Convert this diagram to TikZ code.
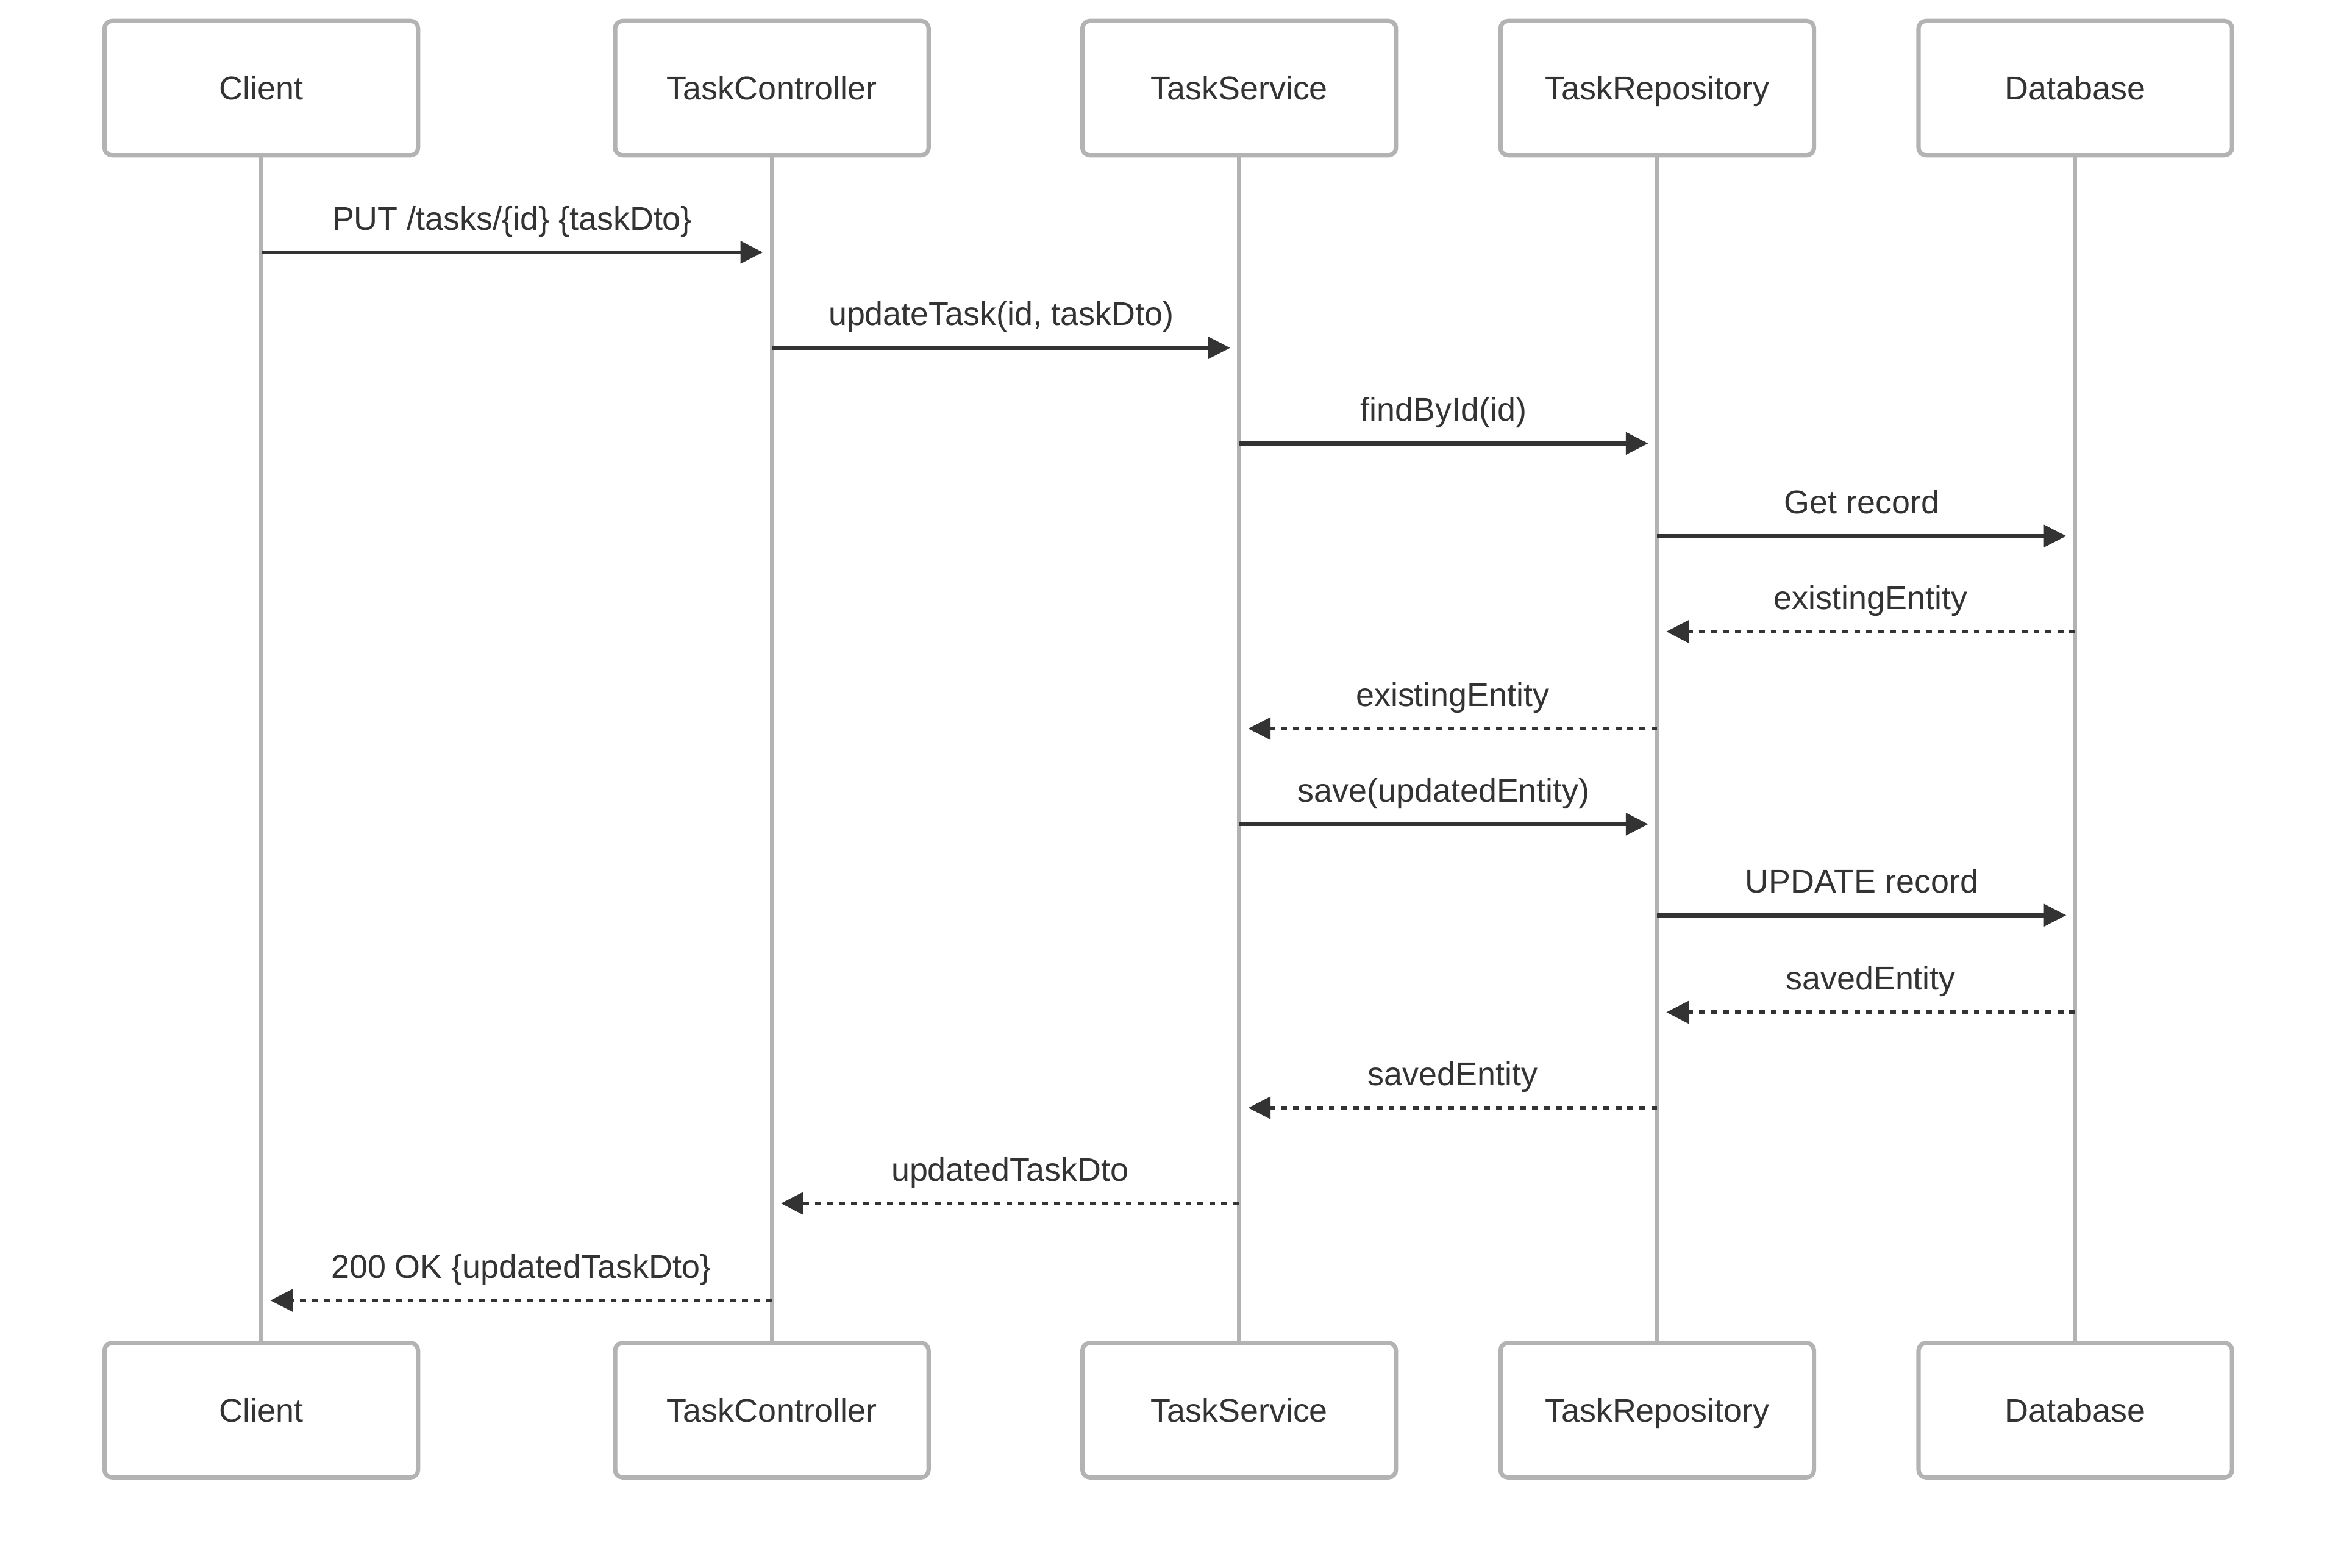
\documentclass[tikz,border=0pt]{standalone}
\usepackage{fontspec}
\setmainfont{Liberation Sans}
\usetikzlibrary{arrows.meta}
\definecolor{ink}{HTML}{333333}
\definecolor{frame}{HTML}{B3B3B3}
% \msgline{from}{to}{y}{label}{style}{label shift}{label name}
\newcommand\msgline[7]{%
  \draw[#5] (#1 |- 0,#3) -- (#2 |- 0,#3)
    node[msglabel, pos=0.5, xshift=#6] (#7) {#4};}
\begin{document}
\begin{tikzpicture}[x=1pt, y={(0pt,-1pt)},
  actor/.style={draw=frame, line width=2.9pt, fill=white, rounded corners=5pt,
    minimum width=210pt, minimum height=90pt, inner sep=0pt,
    text height=15.8pt, text depth=0pt,
    font=\fontsize{22}{26}\selectfont, text=ink},
  lifeline/.style={draw=frame, line width=2.7pt},
  msg/.style={draw=ink, line width=2.7pt, -{Triangle[length=15pt,width=14.5pt]},
    shorten >=6pt},
  reply/.style={msg, dash pattern=on 4pt off 4pt},
  msglabel/.style={anchor=base, yshift=15pt, font=\fontsize{22}{26}\selectfont,
    text=ink, inner sep=0pt}]

\useasboundingbox (0,0) rectangle (1568,1050);

% participants, head and foot
\foreach \id/\x/\name in {client/175/Client, ctrl/517/TaskController,
    svc/830/TaskService, repo/1110/TaskRepository, db/1390/Database} {
  \draw[lifeline] (\x,104) -- (\x,899);
  \node[actor] (\id Top) at (\x,59) {\name};
  \node[actor] (\id Bot) at (\x,944.5) {\name};
}

% messages
\msgline{clientTop}{ctrlTop}{169}{PUT /tasks/\{id\} \{taskDto\}}{msg}{-3pt}{l1}
\msgline{ctrlTop}{svcTop}{233}{updateTask(id, taskDto)}{msg}{-3pt}{l2}
\msgline{svcTop}{repoTop}{297}{findById(id)}{msg}{-3pt}{l3}
\msgline{repoTop}{dbTop}{359}{Get record}{msg}{-3pt}{l4}
\msgline{dbTop}{repoTop}{423}{existingEntity}{reply}{3pt}{l5}
\msgline{repoTop}{svcTop}{488}{existingEntity}{reply}{3pt}{l6}
\msgline{svcTop}{repoTop}{552}{save(updatedEntity)}{msg}{-3pt}{l7}
\msgline{repoTop}{dbTop}{613}{UPDATE record}{msg}{-3pt}{l8}
\msgline{dbTop}{repoTop}{678}{savedEntity}{reply}{3pt}{l9}
\msgline{repoTop}{svcTop}{742}{savedEntity}{reply}{3pt}{l10}
\msgline{svcTop}{ctrlTop}{806}{updatedTaskDto}{reply}{3pt}{l11}
\msgline{ctrlTop}{clientTop}{871}{200 OK \{updatedTaskDto\}}{reply}{3pt}{l12}
\end{tikzpicture}
\end{document}
